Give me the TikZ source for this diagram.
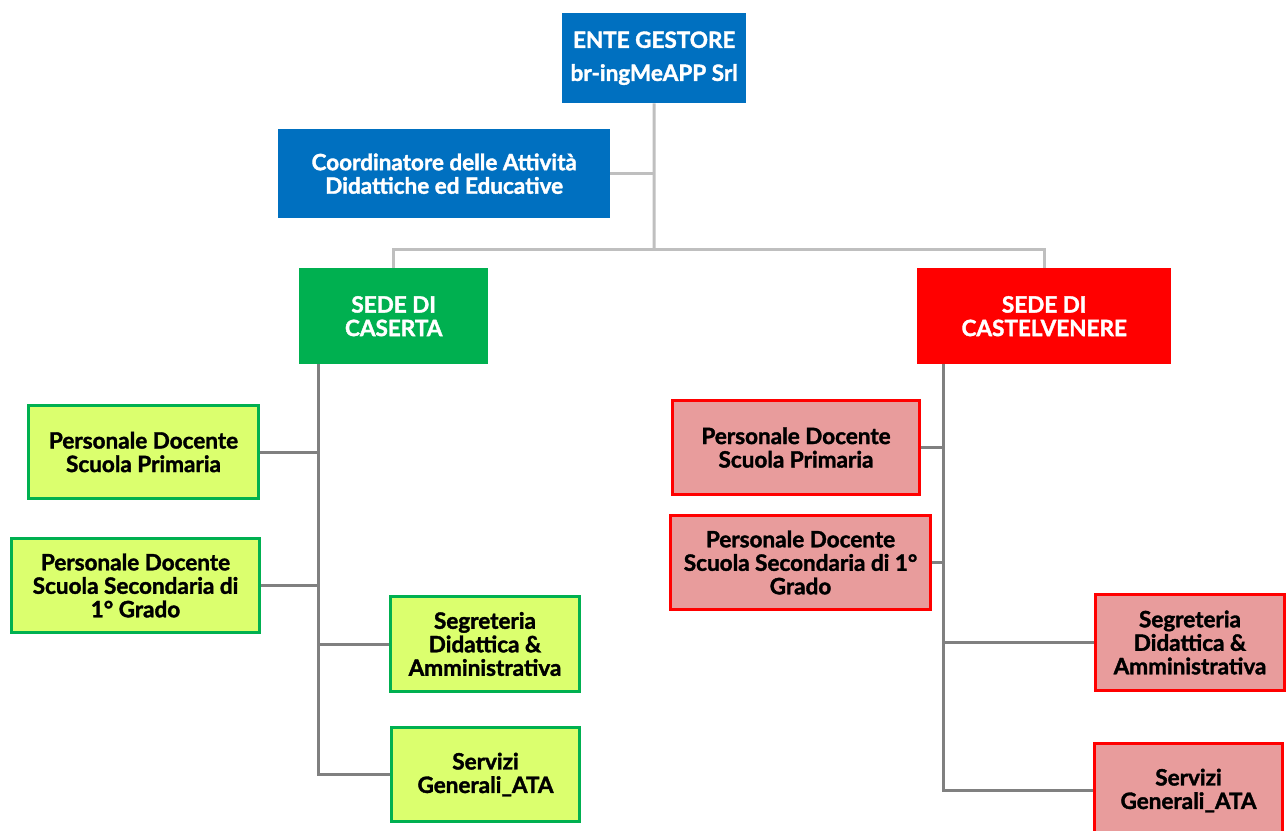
\documentclass[tikz,border=0pt]{standalone}
\usepackage{fontspec}
\setmainfont{Lato}[BoldFeatures={FakeBold=1.6}]
\usetikzlibrary{calc}
\definecolor{cblue}{HTML}{0070C0}
\definecolor{cgreen}{HTML}{00B050}
\definecolor{cred}{HTML}{FF0000}
\definecolor{clime}{HTML}{DBFF6E}
\definecolor{cpink}{HTML}{E89C9C}
\definecolor{clight}{HTML}{BFBFBF}
\definecolor{cdark}{HTML}{808080}
\tikzset{
  box/.style={anchor=north west, inner sep=0pt, align=center,
    font=\fontsize{22.5}{23.5}\selectfont\bfseries},
  topbox/.style={box, fill=cblue, text=white},
  gsede/.style={box, fill=cgreen, text=white},
  rsede/.style={box, fill=cred, text=white},
  gchild/.style={box, fill=clime, draw=cgreen, line width=3pt, text=black},
  rchild/.style={box, fill=cpink, draw=cred, line width=3pt, text=black},
  lightline/.style={draw=clight, line width=3pt},
  darkline/.style={draw=cdark, line width=3pt},
}
\begin{document}
\begin{tikzpicture}[x=1pt,y=-1pt]
\useasboundingbox (0,0) rectangle (1287,830);
\clip (0,0) rectangle (1287,830);
% top
\node[topbox, minimum width=184pt, minimum height=90pt] (ente) at (562,13)
  {ENTE GESTORE\\[9.5pt]br-ingMeAPP Srl};
\node[topbox, minimum width=332pt, minimum height=89pt] (coord) at (278,129)
  {Coordinatore delle Attività\\Didattiche ed Educative};
\node[gsede, minimum width=189pt, minimum height=96pt] (caserta) at (299,268)
  {SEDE DI\\CASERTA};
\node[rsede, minimum width=254pt, minimum height=96pt] (castel) at (917,268)
  {SEDE DI\\CASTELVENERE};
% green children
\node[gchild, minimum width=230pt, minimum height=93pt] (gp) at (27,404)
  {Personale Docente\\Scuola Primaria};
\node[gchild, minimum width=248pt, minimum height=94pt] (gsec) at (10,537)
  {Personale Docente\\Scuola Secondaria di\\1° Grado};
\node[gchild, minimum width=189pt, minimum height=95pt] (gseg) at (389,595)
  {Segreteria\\Didattica \&\\Amministrativa};
\node[gchild, minimum width=188pt, minimum height=94pt] (gserv) at (390,726)
  {Servizi\\Generali\_ATA};
% red children
\node[rchild, minimum width=247pt, minimum height=94pt] (rp) at (671,399)
  {Personale Docente\\Scuola Primaria};
\node[rchild, minimum width=260pt, minimum height=94pt] (rsec) at (669,514)
  {Personale Docente\\Scuola Secondaria di 1°\\Grado};
\node[rchild, minimum width=189pt, minimum height=96pt] (rseg) at (1094,593)
  {Segreteria\\Didattica \&\\Amministrativa};
\node[rchild, minimum width=188pt, minimum height=94pt] (rserv) at (1093,742)
  {Servizi\\Generali\_ATA};
% connectors top
\coordinate (bus) at (654,249);
\draw[lightline] (ente.south) -- (bus);
\draw[lightline] (coord.east) -- (coord.east -| bus);
\draw[lightline] (caserta.north) |- (bus) -| (castel.north);
% green trunk
\coordinate (gtop) at (318,364);
\draw[darkline] (gtop) |- (gserv.west);
\draw[darkline] (gp.east) -- (gp.east -| gtop);
\draw[darkline] (gsec.east) -- (gsec.east -| gtop);
\draw[darkline] (gseg.west) -- (gseg.west -| gtop);
% red trunk
\coordinate (rtop) at (943,364);
\draw[darkline] (rtop) |- (rserv.west);
\draw[darkline] (rp.east) -- (rp.east -| rtop);
\draw[darkline] (rsec.east) -- (rsec.east -| rtop);
\draw[darkline] (rseg.west) -- (rseg.west -| rtop);
\end{tikzpicture}
\end{document}
